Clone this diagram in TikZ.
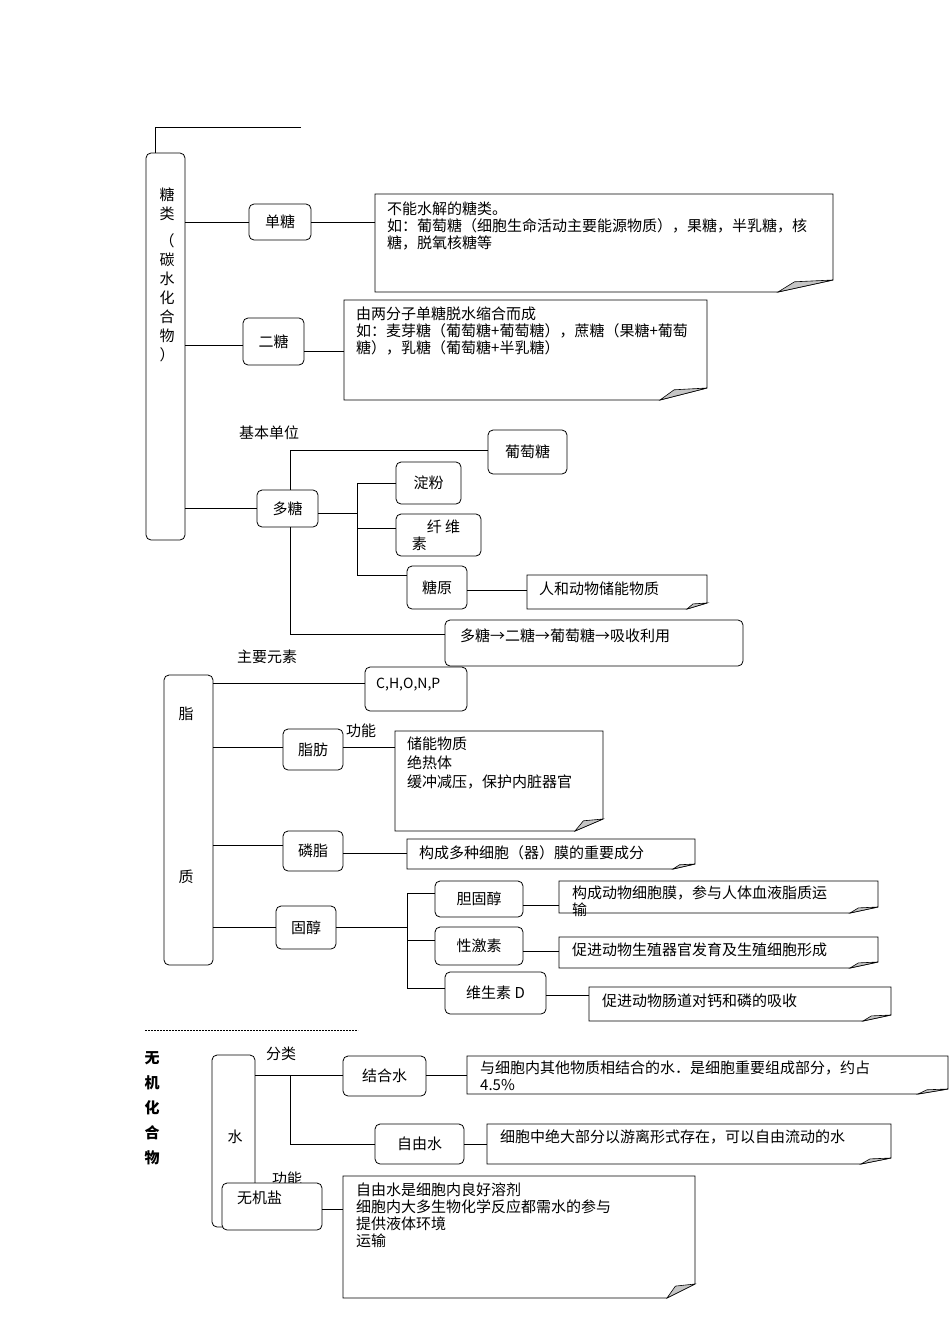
\documentclass[tikz,border=0pt]{standalone}
\usepackage{fontspec}
\setmainfont{Noto Sans CJK SC}
\begin{document}
\begin{tikzpicture}[x=1pt,y=-1pt,
  box/.style={draw,rounded corners=5pt,fill=white,line width=0.8pt},
  lbl/.style={anchor=north west,inner sep=0,font=\fontsize{15}{17}\selectfont},
  ntxt/.style={anchor=north west,inner sep=0,align=left,font=\fontsize{15}{17}\selectfont},
  ln/.style={line width=0.8pt}]
\useasboundingbox (0,0) rectangle (950,1344);
\newcommand\rbox[6]{\node[box,minimum width=#4-#2,minimum height=#5-#3,font=\fontsize{15}{17}\selectfont,align=center] (#1) at ({(#2+#4)/2},{(#3+#5)/2}) {#6};}
\newcommand\note[7]{%
 \draw[line width=0.8pt,fill=white] (#2,#3) -- (#4,#3) -- (#4,#5-#7) -- (#4-#6,#5) -- (#2,#5) -- cycle;
 \draw[line width=0.6pt,fill=gray!45] (#4-#6,#5) -- (#4,#5-#7) -- (#4-#6*0.7,#5-#7*0.85) -- cycle;
 \node[inner sep=0,minimum width=#4-#2,minimum height=#5-#3] (#1) at ({(#2+#4)/2},{(#3+#5)/2}) {};}
% top
\coordinate (t0) at (301,127);
\draw[ln] (t0) -- (155,127) -- (155,153);
% sugars
\node[box,minimum width=39,minimum height=387] (tl) at (165.5,346.5) {};
\node[inner sep=0,align=center,font=\fontsize{15}{19}\selectfont] at (167,275) {糖\\类\\[8pt]（\\碳\\水\\化\\合\\物\\）};
\rbox{dt}{249}{204}{311}{240}{单糖}
\note{n1}{375}{194}{833}{292}{55}{12}
\node[ntxt] at (387,202) {不能水解的糖类。\\如：葡萄糖（细胞生命活动主要能源物质），果糖，半乳糖，核\\糖，脱氧核糖等};
\draw[ln] (tl.east |- dt.west) -- (dt.west); \draw[ln] (dt.east) -- (dt.east -| n1.west);
\rbox{et}{243}{318}{304}{365}{二糖}
\note{n2}{344}{300}{707}{400}{47}{12}
\node[ntxt] at (356,307) {由两分子单糖脱水缩合而成\\如：麦芽糖（葡萄糖+葡萄糖），蔗糖（果糖+葡萄\\糖），乳糖（葡萄糖+半乳糖）};
\draw[ln] (tl.east |- 0,345) -- (et.west |- 0,345); \draw[ln] (et.east |- 0,351) -- (n2.west |- 0,351);
\rbox{dut}{257}{490}{318}{527}{多糖}
\draw[ln] (tl.east |- dut.west) -- (dut.west);
\node[lbl] at (239,426) {基本单位};
\rbox{ptt}{488}{430}{567}{474}{葡萄糖}
\draw[ln] (dut.north -| 290,0) -- (290,450) -- (ptt.west |- 0,450);
\rbox{df}{396}{462}{461}{504}{淀粉}
\rbox{xw}{396}{514}{481}{556}{}
\node[inner sep=0,align=left,font=\fontsize{15}{17}\selectfont] at (436,535) {\quad 纤 维\\素\phantom{纤 维}};
\rbox{ty}{407}{566}{467}{609}{糖原}
\note{n3}{527}{575}{707}{609}{20}{6}
\node[ntxt] at (539,582) {人和动物储能物质};
\coordinate (j1) at (357,513);
\draw[ln] (dut.east |- j1) -- (j1);
\draw[ln] (357,483) -- (357,575);
\draw[ln] (357,483) -- (df.west |- 0,483);
\draw[ln] (357,528) -- (xw.west |- 0,528);
\draw[ln] (357,575) -- (ty.west |- 0,575);
\draw[ln] (ty.east |- 0,590) -- (n3.west |- 0,590);
\rbox{lc}{445}{620}{743}{666}{}
\node[lbl] at (460,629) {多糖→二糖→葡萄糖→吸收利用};
\draw[ln] (dut.south -| 290,0) -- (290,634) -- (lc.west |- 0,634);
% lipids
\node[box,minimum width=49,minimum height=290] (zz) at (188.5,820) {};
\node[font=\fontsize{15}{17}\selectfont] at (186,714) {脂};
\node[font=\fontsize{15}{17}\selectfont] at (186,877) {质};
\node[lbl] at (237,650) {主要元素};
\rbox{ys}{365}{667}{467}{711}{}
\node[lbl,font=\fontsize{14}{16}\selectfont] at (376,678) {C,H,O,N,P};
\draw[ln] (zz.east |- 0,683) -- (ys.west |- 0,683);
\rbox{zf}{283}{729}{343}{770}{脂肪}
\node[lbl] at (346,724) {功能};
\note{n4}{395}{731}{603}{831}{28}{12}
\node[ntxt,font=\fontsize{15}{19}\selectfont] at (407,737) {储能物质\\绝热体\\缓冲减压，保护内脏器官};
\draw[ln] (zz.east |- 0,747) -- (zf.west |- 0,747); \draw[ln] (zf.east |- 0,747) -- (n4.west |- 0,747);
\rbox{lz}{283}{831}{343}{871}{磷脂}
\note{n5}{407}{839}{695}{869}{22}{5}
\node[ntxt] at (419,845) {构成多种细胞（器）膜的重要成分};
\draw[ln] (zz.east |- 0,845) -- (lz.west |- 0,845); \draw[ln] (lz.east |- 0,853) -- (n5.west |- 0,853);
\rbox{gc}{276}{906}{336}{949}{固醇}
\draw[ln] (zz.east |- 0,927) -- (gc.west |- 0,927); \draw[ln] (gc.east |- 0,927) -- (407,927);
\draw[ln] (407,893) -- (407,988);
\rbox{dg}{435}{881}{523}{917}{胆固醇}
\rbox{xj}{435}{927}{523}{965}{性激素}
\rbox{ws}{445}{972}{546}{1014}{维生素 D}
\draw[ln] (407,893) -- (dg.west |- 0,893);
\draw[ln] (407,940) -- (xj.west |- 0,940);
\draw[ln] (407,988) -- (ws.west |- 0,988);
\note{n6}{559}{881}{878}{913}{28}{6}
\node[ntxt] at (572,886) {构成动物细胞膜，参与人体血液脂质运\\输};
\note{n7}{559}{937}{878}{968}{28}{6}
\node[ntxt] at (572,943) {促进动物生殖器官发育及生殖细胞形成};
\note{n8}{589}{987}{891}{1021}{28}{6}
\node[ntxt] at (602,994) {促进动物肠道对钙和磷的吸收};
\draw[ln] (dg.east |- 0,905) -- (n6.west |- 0,905);
\draw[ln] (xj.east |- 0,951) -- (n7.west |- 0,951);
\draw[ln] (ws.east |- 0,995) -- (n8.west |- 0,995);
% inorganic
\draw[dash pattern=on 2pt off 1pt,line width=0.5pt] (145,1030) -- (358,1030);
\node[inner sep=0,align=center,font=\fontsize{15}{25}\selectfont\bfseries] at (152,1108) {无\\机\\化\\合\\物};
\node[box,minimum width=43,minimum height=172] (sw) at (233.5,1141) {};
\node[font=\fontsize{15}{17}\selectfont] at (235,1137) {水};
\node[lbl] at (266,1047) {分类};
\node[lbl] at (272,1172) {功能};
\rbox{jh}{343}{1056}{426}{1096}{结合水}
\note{n9}{467}{1056}{948}{1094}{30}{5}
\node[ntxt] at (480,1061) {与细胞内其他物质相结合的水．是细胞重要组成部分，约占\\4.5\%};
\draw[ln] (sw.east |- 0,1075) -- (jh.west |- 0,1075); \draw[ln] (jh.east |- 0,1075) -- (n9.west |- 0,1075);
\rbox{zy}{375}{1124}{464}{1164}{自由水}
\note{n10}{487}{1124}{891}{1164}{30}{6}
\node[ntxt] at (500,1130) {细胞中绝大部分以游离形式存在，可以自由流动的水};
\draw[ln] (290,1075) -- (290,1144) -- (zy.west |- 0,1144); \draw[ln] (zy.east |- 0,1144) -- (n10.west |- 0,1144);
\node[box,minimum width=100,minimum height=47] (wj) at (272,1206.5) {};
\node[lbl] at (237,1191) {无机盐};
\note{n11}{343}{1176}{695}{1298}{28}{14}
\node[ntxt] at (356,1183) {自由水是细胞内良好溶剂\\细胞内大多生物化学反应都需水的参与\\提供液体环境\\运输};
\draw[ln] (wj.east |- 0,1209) -- (n11.west |- 0,1209);
\end{tikzpicture}
\end{document}
